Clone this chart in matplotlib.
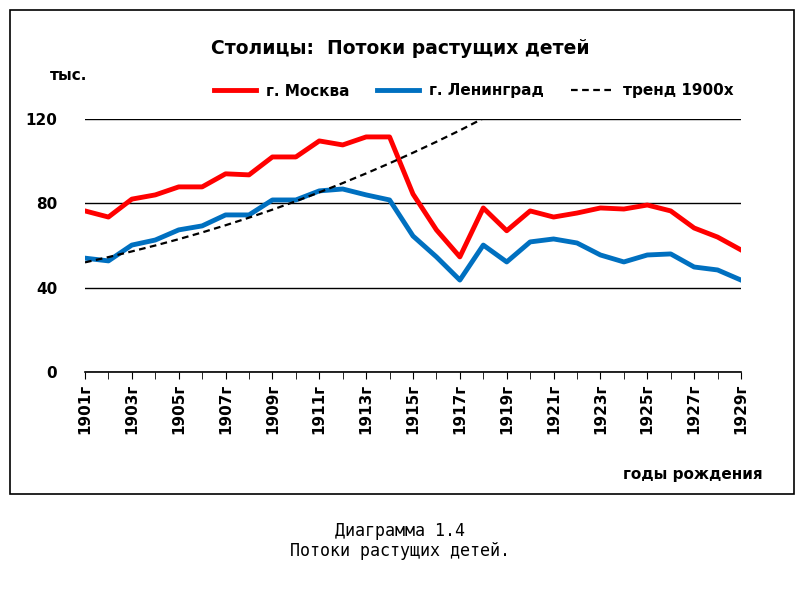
import matplotlib
matplotlib.use("Agg")
import matplotlib.pyplot as plt
from matplotlib.patches import Rectangle

years = list(range(1901, 1930))
moscow = [76.4, 73.5, 82, 84, 87.8, 87.8, 94, 93.5, 102, 102, 109.6, 107.7, 111.5, 111.5,
          84.4, 67.4, 54.6, 77.8, 67, 76.4, 73.5, 75.4, 77.8, 77.3, 79.2, 76.4, 68.3, 64, 57.9]
leningrad = [54, 52.7, 60.2, 62.6, 67.4, 69.3, 74.5, 74.5, 81.6, 81.6, 85.9, 86.8, 84, 81.6,
             64.5, 54.6, 43.6, 60.2, 52.2, 61.7, 63.1, 61.2, 55.5, 52.2, 55.5, 56, 49.8, 48.4, 43.6]
trend_years = list(range(1901, 1920))
trend = [52, 54.5, 57.2, 60, 63, 66.2, 69.6, 73.2, 77, 81, 85.2, 89.6, 94.2, 99, 104, 109.2,
         114.6, 120.3, 126]
tick_labels = [f"{y}г" for y in years[::2]]

fig = plt.figure(figsize=(8, 6), dpi=100)
fig.patches.append(Rectangle((10 / 800, 1 - 494 / 600), 784 / 800, 484 / 600,
                             transform=fig.transFigure, fill=False, ec="black", lw=1.2))

ax = fig.add_axes([85 / 800, 1 - 372 / 600, 656 / 800, 253 / 600])
ax.plot(years, moscow, color="#ff0000", lw=3.5, label="г. Москва")
ax.plot(years, leningrad, color="#0070c0", lw=3.5, label="г. Ленинград")
ax.plot(trend_years, trend, color="black", lw=1.6, ls=(0, (3, 2)), label="тренд 1900х")

ax.set_xlim(1901, 1929)
ax.set_ylim(0, 120)
ax.set_yticks([0, 40, 80, 120])
ax.set_xticks(years[::2])
ax.set_xticks(years, minor=True)
ax.set_xticklabels(tick_labels, rotation=90, fontsize=11, fontweight="bold")
ax.tick_params(axis="y", length=0, labelsize=11, pad=20)
for t in ax.get_yticklabels():
    t.set_fontweight("bold")
ax.tick_params(axis="x", which="both", length=5, direction="out")
ax.grid(axis="y", color="black", lw=1)
for s in ["left", "right", "top"]:
    ax.spines[s].set_visible(False)
ax.spines["bottom"].set_linewidth(1.2)

fig.text(0.5, 1 - 48 / 600, "Столицы:  Потоки растущих детей", ha="center", va="center",
         fontsize=13.5, fontweight="bold")
fig.text(50 / 800, 1 - 75 / 600, "тыс.", ha="left", va="center", fontsize=11, fontweight="bold")
fig.text(763 / 800, 1 - 475 / 600, "годы рождения", ha="right", va="center", fontsize=11,
         fontweight="bold")
fig.legend(loc="center", bbox_to_anchor=(0.592, 1 - 91 / 600), ncol=3, frameon=False,
           prop={"weight": "bold", "size": 11}, handlelength=2.8, columnspacing=1.8,
           handletextpad=0.6)

fig.text(0.5, 1 - 531 / 600, "Диаграмма 1.4", ha="center", va="center", fontsize=12,
         family="DejaVu Sans Mono")
fig.text(0.5, 1 - 551 / 600, "Потоки растущих детей.", ha="center", va="center", fontsize=12,
         family="DejaVu Sans Mono")

fig.savefig("out.png", dpi=100)
